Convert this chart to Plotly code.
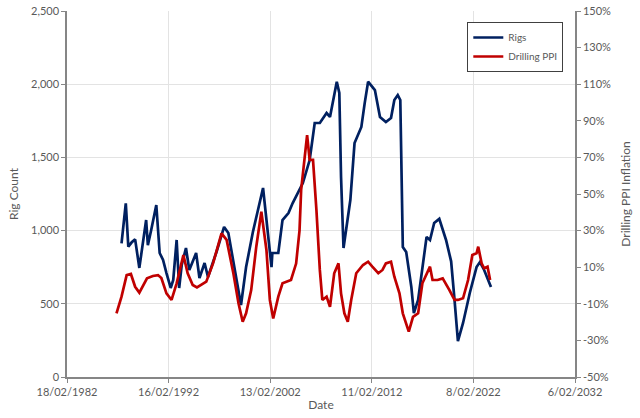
import plotly.graph_objects as go

rig_dates = ["1987-07","1987-12","1988-03","1988-07","1988-11","1989-04","1989-12","1990-02","1990-06","1990-12",
             "1991-04","1991-08","1991-12","1992-05","1992-08","1992-12","1993-03","1993-06","1993-11","1994-03",
             "1994-11","1995-03","1995-09","1996-01","1996-11","1997-08","1998-01","1998-07","1999-04","1999-10",
             "2000-06","2001-06","2002-04","2002-05","2002-12","2003-05","2003-12","2004-05","2004-11","2005-05",
             "2006-01","2006-07","2007-01","2007-09","2008-01","2008-04","2008-09","2008-12","2009-02","2009-05",
             "2010-01","2010-06","2011-02","2011-06","2011-10","2012-06","2012-12","2013-07","2014-01","2014-05",
             "2014-09","2014-12","2015-03","2015-07","2016-01","2016-04","2016-09","2017-07","2017-11","2018-04",
             "2018-10","2019-06","2019-12","2020-04","2020-08","2021-02","2021-10","2022-06","2022-10","2023-03",
             "2023-11"]
rig_values = [913,1186,890,920,940,745,1072,900,1004,1175,
              847,800,710,608,663,936,608,765,881,731,
              847,676,779,683,854,1025,983,779,492,751,
              990,1291,751,847,847,1072,1120,1188,1257,1325,
              1482,1735,1735,1803,1776,1871,2017,1940,1366,881,
              1209,1598,1708,1871,2017,1960,1776,1742,1769,1892,
              1926,1892,888,854,615,437,526,956,936,1052,
              1080,936,790,526,245,369,574,751,785,731,
              615]

ppi_dates = ["1987-01","1987-07","1988-01","1988-06","1988-11","1989-04","1990-01","1990-08","1991-02","1991-06",
             "1991-12","1992-06","1992-12","1993-08","1994-01","1994-07","1994-12","1995-05","1995-11","1996-07",
             "1997-05","1997-11","1998-07","1999-01","1999-06","1999-10","2000-04","2000-10","2001-04","2001-10",
             "2002-02","2002-06","2002-12","2003-05","2003-10","2004-03","2004-09","2005-01","2005-03","2005-10",
             "2006-01","2006-05","2006-09","2007-01","2007-04","2007-09","2008-01","2008-06","2008-11","2009-02",
             "2009-06","2009-10","2010-02","2010-08","2011-04","2011-10","2012-03","2012-10","2013-03","2013-07",
             "2014-01","2014-05","2014-11","2015-03","2015-10","2016-03","2016-09","2017-02","2017-11","2018-02",
             "2018-08","2019-02","2019-10","2020-04","2020-08","2021-02","2021-08","2022-01","2022-06","2022-08",
             "2022-12","2023-03","2023-07","2023-10"]
ppi_values = [-15.2,-6.1,5.7,6.3,-0.7,-3.9,3.9,5.2,5.7,4.1,
              -4.3,-7.9,1.2,16.7,6.7,0.3,-1.0,0.3,2.1,12.1,
              28.5,24.9,6.7,-9.7,-19.8,-15.2,-2.5,21.2,40.3,19.4,
              -7.9,-18.0,-6.1,1.2,2.1,3.0,12.0,30.0,52.2,82.2,
              68.6,68.6,41.2,8.5,-7.9,-6.1,-11.6,6.7,12.1,-4.3,
              -15.2,-19.8,-7.9,6.7,11.2,13.0,10.3,6.7,8.5,12.1,
              13.0,4.8,-4.3,-15.2,-25.2,-17.1,-15.2,1.2,10.3,3.0,
              3.0,3.9,-2.5,-7.9,-7.9,-7.0,3.0,16.7,17.6,21.2,
              12.1,9.4,10.3,3.0]

x_tick_dates = ["1982-02-18","1992-02-16","2002-02-13","2012-02-11","2022-02-08","2032-02-06"]
x_tick_labels = ["18/02/1982","16/02/1992","13/02/2002","11/02/2012","8/02/2022","6/02/2032"]
y_ticks = [0,500,1000,1500,2000,2500]
y_tick_labels = ["0","500","1,000","1,500","2,000","2,500"]
y2_ticks = [-50,-30,-10,10,30,50,70,90,110,130,150]
y2_tick_labels = ["-50%","-30%","-10%","10%","30%","50%","70%","90%","110%","130%","150%"]

FONT = "Lato, Open Sans, sans-serif"
TXT = "#595959"
AX = "#868686"
GRID = "#E3E3E3"

fig = go.Figure()
fig.add_trace(go.Scatter(x=rig_dates, y=rig_values, name="Rigs", mode="lines",
                         line=dict(color="#002060", width=2.7)))
fig.add_trace(go.Scatter(x=ppi_dates, y=ppi_values, name="Drilling PPI", mode="lines",
                         line=dict(color="#C00000", width=2.7), yaxis="y2"))

fig.update_layout(
    width=640, height=418,
    margin=dict(l=67, r=65, t=11, b=41, autoexpand=False),
    paper_bgcolor="white", plot_bgcolor="white",
    font=dict(family=FONT, size=11, color=TXT),
    showlegend=True,
    legend=dict(x=0.788, y=0.97, xanchor="left", yanchor="top",
                bgcolor="white", bordercolor="#404040", borderwidth=1,
                font=dict(size=10, color=TXT), itemwidth=30,
                tracegroupgap=0),
    xaxis=dict(type="date", range=["1982-02-18","2032-02-06"], automargin=False,
               tickvals=x_tick_dates, ticktext=x_tick_labels,
               showgrid=True, gridcolor=GRID, gridwidth=1,
               showline=True, linecolor=AX, linewidth=1.5,
               ticks="outside", ticklen=4, tickcolor=AX,
               title=dict(text="Date", font=dict(size=12, color=TXT), standoff=4),
               zeroline=False),
    yaxis=dict(range=[0,2500], tickvals=y_ticks, ticktext=y_tick_labels, automargin=False,
               showgrid=True, gridcolor=GRID, gridwidth=1,
               showline=True, linecolor=AX, linewidth=1.5,
               ticks="outside", ticklen=4, tickcolor=AX,
               title=dict(text="Rig Count", font=dict(size=12, color=TXT), standoff=10),
               zeroline=False),
    yaxis2=dict(range=[-50,150], tickvals=y2_ticks, ticktext=y2_tick_labels, automargin=False,
                overlaying="y", side="right", showgrid=False,
                showline=True, linecolor=AX, linewidth=1.5,
                ticks="outside", ticklen=4, tickcolor=AX,
                title=dict(text="Drilling PPI Inflation", font=dict(size=12, color=TXT), standoff=12),
                zeroline=False),
)

fig.write_html("out.html")
